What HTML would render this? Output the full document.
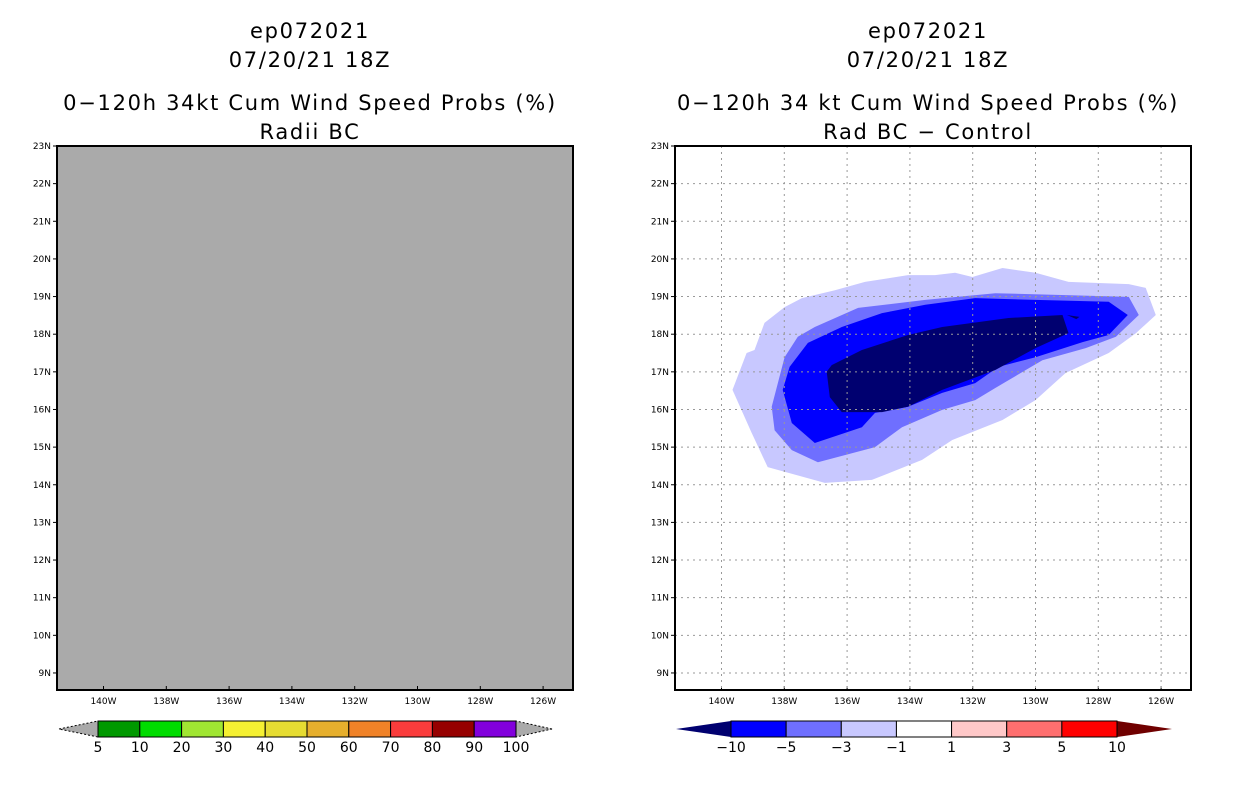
<!DOCTYPE html>
<html><head><meta charset="utf-8"><style>
html,body{margin:0;padding:0;background:#fff;}
svg{display:block;font-family:"DejaVu Sans","Liberation Sans",sans-serif;}
.t{font-size:21px;fill:#000;text-anchor:middle;letter-spacing:1.7px}
.tk{font-size:9px;fill:#000}
.cb{font-size:14px;fill:#000;text-anchor:middle}
</style></head><body>
<svg id="s" width="1236" height="800" viewBox="0 0 1236 800">
<g>
<text class="t" x="310" y="38">ep072021</text>
<text class="t" x="310" y="67">07/20/21 18Z</text>
<text class="t" x="310" y="110">0−120h 34kt Cum Wind Speed Probs (%)</text>
<text class="t" x="310" y="139">Radii BC</text>
</g>
<g>
<text class="t" x="928" y="38">ep072021</text>
<text class="t" x="928" y="67">07/20/21 18Z</text>
<text class="t" x="928" y="110">0−120h 34 kt Cum Wind Speed Probs (%)</text>
<text class="t" x="928" y="139">Rad BC − Control</text>
</g>
<rect x="57" y="146" width="516" height="544" fill="#aaaaaa"/>
<rect x="675" y="146" width="516" height="544" fill="#ffffff"/>
<g id="lax"></g><g id="rax"></g><g id="cont"></g><g id="rgrid"></g><g id="frames"></g>
<g id="cbl"></g><g id="cbr"></g>
</svg>
<script>
const lonTicks=[-140,-138,-136,-134,-132,-130,-128,-126];
const latTicks=[9,10,11,12,13,14,15,16,17,18,19,20,21,22,23];
const leftLevels=["5","10","20","30","40","50","60","70","80","90","100"];
const leftColors=["#009900","#00dc00","#a0e632","#f5f032","#e6dc32","#e6af2d","#f08228","#fa3c3c","#960000","#8200dc"];
const rightLevels=["−10","−5","−3","−1","1","3","5","10"];
const rightColors=["#0000ff","#6f6fff","#c8c8ff","#ffffff","#ffc8c8","#ff6f6f","#ff0000"];
const contourFills=["#c8c8ff","#6f6fff","#0000ff","#000070","#000070"];
const contourOuter=[[-139.65,16.52],[-139.2,17.5],[-138.95,17.58],[-138.63,18.3],[-137.99,18.72],[-137.44,18.96],[-136.39,19.17],[-135.43,19.39],[-134.06,19.57],[-133.2,19.57],[-132.56,19.63],[-132.01,19.52],[-131.05,19.76],[-130.0,19.63],[-128.95,19.39],[-127.03,19.33],[-126.49,19.23],[-126.17,18.51],[-126.8,18.03],[-127.67,17.5],[-129.04,16.97],[-130.0,16.25],[-131.05,15.72],[-132.65,15.19],[-133.61,14.66],[-135.21,14.13],[-136.71,14.05],[-138.53,14.47],[-139.04,15.38]];
const contourMid=[[-138.4,16.07],[-137.99,17.39],[-137.57,17.93],[-137.03,18.19],[-135.65,18.7],[-133.51,18.91],[-131.28,19.09],[-127.03,18.99],[-126.71,18.51],[-127.44,17.93],[-128.4,17.63],[-129.78,17.31],[-131.28,16.57],[-131.92,16.25],[-132.97,15.99],[-134.25,15.53],[-135.11,15.0],[-136.93,14.6],[-137.76,14.92],[-138.31,15.45]];
const contourBlue=[[-138.05,16.52],[-137.83,17.13],[-137.25,17.77],[-136.17,18.19],[-134.89,18.56],[-133.51,18.78],[-131.92,18.96],[-130.0,18.91],[-127.67,18.86],[-127.06,18.51],[-127.67,17.98],[-128.5,17.79],[-130.0,17.39],[-131.18,17.13],[-131.92,16.7],[-132.97,16.44],[-134.06,16.07],[-135.11,15.91],[-135.53,15.53],[-137.03,15.11],[-137.76,15.64]];
const contourCore=[[-136.65,17.0],[-136.49,17.18],[-135.53,17.58],[-134.06,17.98],[-132.97,18.19],[-130.86,18.43],[-129.14,18.51],[-128.95,18.03],[-130.0,17.63],[-131.28,17.05],[-132.97,16.52],[-134.06,16.07],[-134.89,15.93],[-136.17,15.93],[-136.55,16.33]];
const contourSpeck=[[-129.0,18.51],[-128.6,18.46],[-128.7,18.4]];

const NS="http://www.w3.org/2000/svg";
function mk(tag,attrs,parent){const e=document.createElementNS(NS,tag);for(const k in attrs)e.setAttribute(k,attrs[k]);parent.appendChild(e);return e;}
const TOP=146,BOT=690,W=516,PXD=31.4,PXL=37.64;
function xs(left){return lon=>left+46.5+(lon+140)*PXD;}
function ys(lat){return TOP+(23-lat)*PXL;}

function axes(left,gid,grid){
  const g=document.getElementById(gid);const x=xs(left);
  latTicks.forEach(v=>{const y=ys(v);
    mk('line',{x1:left-4,y1:y,x2:left,y2:y,stroke:'#000'},g);
    const t=mk('text',{x:left-6,y:y+3,class:'tk','text-anchor':'end'},g);t.textContent=v+'N';
    
    
    if(grid){const l=mk('line',{x1:left,y1:y,x2:left+W,y2:y,stroke:'#999','stroke-dasharray':'2,4'},document.getElementById('rgrid'));
      
      }
  });
  lonTicks.forEach(v=>{const xx=x(v);
    mk('line',{x1:xx,y1:BOT,x2:xx,y2:BOT-4,stroke:'#000'},g);
    const t=mk('text',{x:xx,y:BOT+14,class:'tk','text-anchor':'middle'},g);t.textContent=(-v)+'W';
    
    
    if(grid){const l=mk('line',{x1:xx,y1:TOP,x2:xx,y2:BOT,stroke:'#999','stroke-dasharray':'2,4'},document.getElementById('rgrid'));
      
      }
  });
  const f=mk('rect',{x:left,y:TOP,width:W,height:BOT-TOP,fill:'none',stroke:'#000','stroke-width':2},document.getElementById('frames'));
  
  
}
axes(57,'lax',false);axes(675,'rax',true);

const cg=document.getElementById('cont');const xr=xs(675);
[contourOuter,contourMid,contourBlue,contourCore,contourSpeck].forEach((poly,i)=>{
  const p=mk('polygon',{points:poly.map(d=>xr(d[0]).toFixed(1)+','+ys(d[1]).toFixed(1)).join(' '),fill:contourFills[i]},cg);
  
  
});

function colorbar(gid,x0,x1,boxL,boxR,labels,colors,lc,rc,ls){
  const g=document.getElementById(gid);const y0=721,y1=737,ym=729;
  const n=colors.length,bw=(boxR-boxL)/n;
  const a=mk('polygon',{points:`${x0},${ym} ${boxL},${y0} ${boxL},${y1}`,fill:lc,stroke:ls,'stroke-dasharray':ls==='#000'?'2,2':'none'},g);
  
  
  const b=mk('polygon',{points:`${x1},${ym} ${boxR},${y0} ${boxR},${y1}`,fill:rc,stroke:ls,'stroke-dasharray':ls==='#000'?'2,2':'none'},g);
  
  
  colors.forEach((c,i)=>{const r=mk('rect',{x:boxL+i*bw,y:y0,width:bw,height:y1-y0,fill:c,stroke:'#000','stroke-width':1},g);
    
    });
  labels.forEach((l,i)=>{const t=mk('text',{x:boxL+i*bw,y:752,class:'cb'},g);t.textContent=l;
    
    });
}
colorbar('cbl',59,552,98,516,leftLevels,leftColors,'#aaaaaa','#aaaaaa','#000');
colorbar('cbr',676,1172,731,1117,rightLevels,rightColors,'#000070','#700000','none');
</script>
</body></html>
